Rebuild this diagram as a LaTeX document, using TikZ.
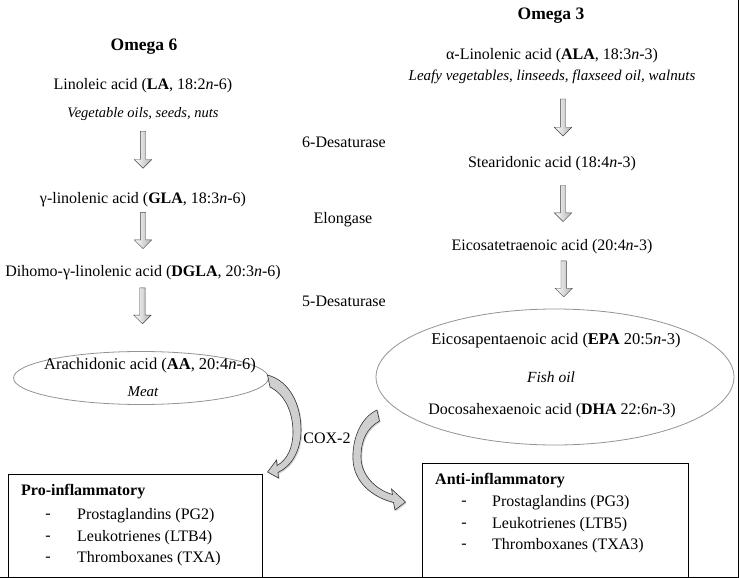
\documentclass[tikz,border=0pt]{standalone}
\usepackage{fontspec}
\setmainfont{Liberation Serif}
\usetikzlibrary{shapes.geometric,shapes.arrows,shadows}

\tikzset{
  txt/.style={inner sep=0pt,font=\fontsize{16}{19}\selectfont},
  head/.style={inner sep=0pt,font=\fontsize{17.5}{20}\selectfont\bfseries},
  food/.style={inner sep=0pt,font=\fontsize{14.5}{17}\selectfont\itshape},
  blockarr/.style={single arrow,shape border rotate=270,draw=black!75,
    left color=white,right color=gray!60,minimum height=36pt,minimum width=17pt,
    inner sep=2.5pt,single arrow head extend=6pt,single arrow head indent=0pt},
  pool/.style={ellipse,draw=gray!85,thick},
  outbox/.style={draw=black,thick,anchor=north west},
  curvearr/.style={draw=black!80,fill=gray!38,line width=0.6pt,
    drop shadow={opacity=0.35,shadow xshift=1.2pt,shadow yshift=-1.2pt}}
}

\begin{document}
\begin{tikzpicture}[x=1pt,y=-1pt]
  \useasboundingbox (0,0) rectangle (740,578);

  % omega 6 side
  \node[head] (om6) at (144,47) {Omega 6};
  \node[txt] (la) at (143,86) {Linoleic acid (\textbf{LA}, 18:2\textit{n}-6)};
  \node[food] (lafood) at (143,114) {Vegetable oils, seeds, nuts};
  \node[txt] (gla) at (143,200) {γ-linolenic acid (\textbf{GLA}, 18:3\textit{n}-6)};
  \node[txt] (dgla) at (143,273) {Dihomo-γ-linolenic acid (\textbf{DGLA}, 20:3\textit{n}-6)};
  \node[pool,minimum width=255,minimum height=53] (aa) at (141,378) {};
  \node[txt,font=\fontsize{16.5}{19}\selectfont] (aaname) at (150,366) {Arachidonic acid (\textbf{AA}, 20:4\textit{n}-6)};
  \node[food,font=\fontsize{15}{18}\selectfont\itshape] (aafood) at (143,392) {Meat};

  % enzymes
  \node[txt] (d6) at (344,142) {6-Desaturase};
  \node[txt] (elo) at (343,220) {Elongase};
  \node[txt] (d5) at (344,301) {5-Desaturase};
  \node[txt] (cox) at (327,438) {COX-2};

  % omega 3 side
  \node[head] (om3) at (551,16) {Omega 3};
  \node[txt] (ala) at (552,56) {α-Linolenic acid (\textbf{ALA}, 18:3\textit{n}-3)};
  \node[food,font=\fontsize{15}{18}\selectfont\itshape] (alafood) at (552,77)
    {Leafy vegetables, linseeds, flaxseed oil, walnuts};
  \node[txt] (sda) at (552,164) {Stearidonic acid (18:4\textit{n}-3)};
  \node[txt] (eta) at (552,247) {Eicosatetraenoic acid (20:4\textit{n}-3)};
  \node[pool,minimum width=358,minimum height=136] (fish) at (555,377) {};
  \node[txt,font=\fontsize{16.5}{19}\selectfont] (epa) at (556,341) {Eicosapentaenoic acid (\textbf{EPA} 20:5\textit{n}-3)};
  \node[food,font=\fontsize{15.5}{18}\selectfont\itshape] (fishfood) at (551,377) {Fish oil};
  \node[txt] (dha) at (552,411) {Docosahexaenoic acid (\textbf{DHA} 22:6\textit{n}-3)};

  % block arrows
  \path (lafood.center) -- node[blockarr,pos=0.4,minimum height=37pt] (a1) {} (gla.center);
  \path (gla.center) -- node[blockarr,pos=0.4] (a2) {} (dgla.center);
  \path (dgla.center) -- node[blockarr,pos=0.3] (a3) {} (aa.center);
  \path (alafood.center) -- node[xshift=11pt,blockarr,pos=0.45,minimum height=37pt] (b1) {} (sda.center);
  \path (sda.center) -- node[xshift=11pt,blockarr,pos=0.46] (b2) {} (eta.center);
  \path (eta.center) -- node[xshift=11pt,blockarr,pos=0.235] (b3) {} (fish.center);

  % curved arrows
  \draw[curvearr] (267.5,375) .. controls (290,381) and (301,405) .. (301,430)
    .. controls (301,450) and (292,466) .. (278,472.5) -- (278.5,478) -- (267.5,472)
    -- (276.5,460) -- (277,465.5) .. controls (287,460) and (293,448) .. (293,432)
    .. controls (293,414) and (286,395) .. (270,387) -- cycle;
  \draw[curvearr] (377,410) .. controls (360,418) and (352,440) .. (353,460)
    .. controls (354,482) and (372,497) .. (393.5,502.5) -- (395,510) -- (405.5,502)
    -- (391.5,489) -- (392.5,494.5) .. controls (374,489) and (361,474) .. (361,457)
    .. controls (361,440) and (367,428) .. (379.5,421) -- cycle;

  % effect boxes
  \node[outbox,minimum width=254,minimum height=104] (pro) at (8,474) {};
  \node[txt,font=\fontsize{16}{19}\selectfont\bfseries,anchor=west] (protitle) at (21,492) {Pro-inflammatory};
  \node[outbox,minimum width=266,minimum height=115] (anti) at (422,463) {};
  \node[txt,font=\fontsize{16}{19}\selectfont\bfseries,anchor=west] (antititle) at (435,481) {Anti-inflammatory};
  \foreach \y/\item [count=\i] in {516/Prostaglandins (PG2), 538/Leukotrienes (LTB4), 559/Thromboxanes (TXA)}{
    \node[txt] (prodash\i) at (48,\y) {-};
    \node[txt,anchor=west] (proitem\i) at (77,\y) {\item};
  }
  \foreach \y/\item [count=\i] in {503/Prostaglandins (PG3), 525/Leukotrienes (LTB5), 546/Thromboxanes (TXA3)}{
    \node[txt] (antidash\i) at (464,\y) {-};
    \node[txt,anchor=west] (antiitem\i) at (492,\y) {\item};
  }

  % frame
  \draw[thick] (738.5,0) -- (738.5,577) -- (0,577);
\end{tikzpicture}
\end{document}
